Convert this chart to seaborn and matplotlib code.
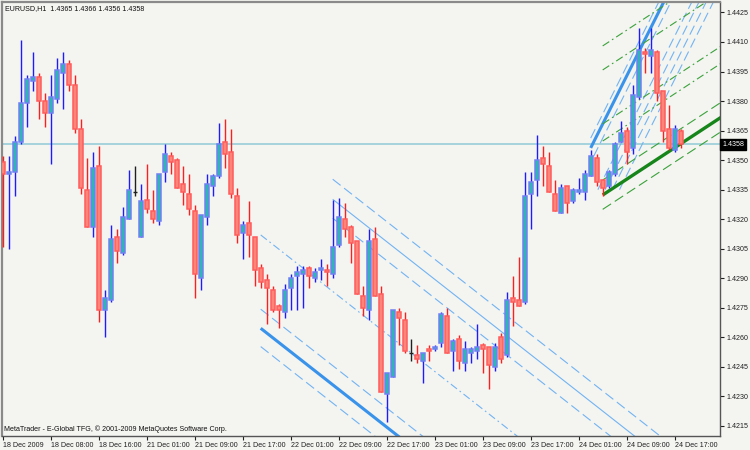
import matplotlib
matplotlib.use('Agg')
import matplotlib.pyplot as plt
import matplotlib.transforms as mtransforms
import numpy as np
import pandas as pd
import seaborn as sns

# EURUSD H1, 18 Dec 2009 00:00 .. 24 Dec 2009 18:00
opens = [1.4349, 1.4343, 1.4344, 1.4359, 1.4379, 1.4390, 1.4392, 1.4380, 1.4374, 1.4381,
         1.4394, 1.4399, 1.4388, 1.4366, 1.4335, 1.4316, 1.4347, 1.4274, 1.4279, 1.4311,
         1.4303, 1.4320, 1.4334, 1.4311, 1.4330, 1.4324, 1.4319, 1.4344, 1.4352, 1.4350,
         1.4338, 1.4333, 1.4324, 1.4290, 1.4321, 1.4337, 1.4342, 1.4359, 1.4354, 1.4332,
         1.4313, 1.4318, 1.4311, 1.4295, 1.4289, 1.4284, 1.4276, 1.4273, 1.4285, 1.4291,
         1.4292, 1.4295, 1.4290, 1.4294, 1.4294, 1.4292, 1.4307, 1.4320, 1.4316, 1.4309,
         1.4281, 1.4274, 1.4310, 1.4282, 1.4231, 1.4240, 1.4273, 1.4269, 1.4252, 1.4251,
         1.4248, 1.4254, 1.4254, 1.4257, 1.4271, 1.4253, 1.4259, 1.4247, 1.4252, 1.4253,
         1.4256, 1.4255, 1.4245, 1.4260, 1.4251, 1.4280, 1.4279, 1.4278, 1.4333, 1.4340,
         1.4351, 1.4347, 1.4333, 1.4323, 1.4337, 1.4329, 1.4334, 1.4334, 1.4342, 1.4351,
         1.4340, 1.4337, 1.4343, 1.4359, 1.4365, 1.4356, 1.4382, 1.4405, 1.4403, 1.4405,
         1.4385, 1.4366, 1.4355, 1.4365]
highs = [1.4352, 1.4352, 1.4362, 1.4411, 1.4393, 1.4405, 1.4394, 1.4384, 1.4393, 1.4402,
         1.4405, 1.4401, 1.4393, 1.4371, 1.4351, 1.4354, 1.4357, 1.4284, 1.4317, 1.4315,
         1.4326, 1.4345, 1.4347, 1.4338, 1.4348, 1.4335, 1.4343, 1.4358, 1.4354, 1.4351,
         1.4347, 1.4343, 1.4327, 1.4322, 1.4343, 1.4343, 1.4369, 1.4371, 1.4366, 1.4336,
         1.4319, 1.4329, 1.4311, 1.4297, 1.4292, 1.4286, 1.4277, 1.4287, 1.4292, 1.4296,
         1.4296, 1.4296, 1.4295, 1.4300, 1.4297, 1.4330, 1.4331, 1.4328, 1.4317, 1.4309,
         1.4286, 1.4315, 1.4316, 1.4286, 1.4242, 1.4274, 1.4275, 1.4273, 1.4259, 1.4256,
         1.4252, 1.4256, 1.4256, 1.4273, 1.4275, 1.4259, 1.4261, 1.4258, 1.4255, 1.4267,
         1.4257, 1.4255, 1.4257, 1.4262, 1.4283, 1.4291, 1.4301, 1.4344, 1.4344, 1.4363,
         1.4357, 1.4354, 1.4340, 1.4338, 1.4337, 1.4336, 1.4341, 1.4345, 1.4355, 1.4353,
         1.4340, 1.4345, 1.4359, 1.4370, 1.4367, 1.4388, 1.4417, 1.4407, 1.4417, 1.4406,
         1.4385, 1.4378, 1.4368, 1.4366]
lows = [1.4306, 1.4305, 1.4332, 1.4358, 1.4367, 1.4385, 1.4371, 1.4367, 1.4348, 1.4379,
        1.4376, 1.4385, 1.4364, 1.4333, 1.4316, 1.4311, 1.4268, 1.4260, 1.4278, 1.4298,
        1.4302, 1.4320, 1.4332, 1.4311, 1.4323, 1.4318, 1.4317, 1.4339, 1.4343, 1.4336,
        1.4327, 1.4322, 1.4280, 1.4284, 1.4317, 1.4332, 1.4341, 1.4346, 1.4331, 1.4308,
        1.4300, 1.4301, 1.4286, 1.4285, 1.4267, 1.4273, 1.4265, 1.4270, 1.4274, 1.4274,
        1.4275, 1.4285, 1.4288, 1.4289, 1.4286, 1.4290, 1.4306, 1.4311, 1.4298, 1.4282,
        1.4271, 1.4269, 1.4281, 1.4232, 1.4217, 1.4240, 1.4256, 1.4252, 1.4248, 1.4247,
        1.4237, 1.4248, 1.4253, 1.4255, 1.4252, 1.4243, 1.4244, 1.4243, 1.4247, 1.4249,
        1.4242, 1.4234, 1.4243, 1.4247, 1.4250, 1.4266, 1.4276, 1.4277, 1.4315, 1.4332,
        1.4337, 1.4334, 1.4324, 1.4323, 1.4323, 1.4328, 1.4333, 1.4330, 1.4342, 1.4337,
        1.4332, 1.4336, 1.4342, 1.4359, 1.4348, 1.4353, 1.4381, 1.4394, 1.4394, 1.4380,
        1.4359, 1.4355, 1.4354, 1.4356]
closes = [1.4343, 1.4344, 1.4359, 1.4379, 1.4391, 1.4392, 1.4380, 1.4374, 1.4382, 1.4396,
          1.4399, 1.4388, 1.4366, 1.4336, 1.4316, 1.4346, 1.4274, 1.4280, 1.4310, 1.4304,
          1.4321, 1.4335, 1.4334, 1.4329, 1.4325, 1.4320, 1.4343, 1.4353, 1.4349, 1.4336,
          1.4334, 1.4325, 1.4292, 1.4322, 1.4338, 1.4342, 1.4358, 1.4353, 1.4333, 1.4312,
          1.4317, 1.4312, 1.4294, 1.4288, 1.4285, 1.4274, 1.4274, 1.4284, 1.4290, 1.4293,
          1.4294, 1.4291, 1.4293, 1.4295, 1.4293, 1.4306, 1.4321, 1.4315, 1.4308, 1.4282,
          1.4275, 1.4309, 1.4281, 1.4232, 1.4242, 1.4274, 1.4270, 1.4253, 1.4252, 1.4249,
          1.4252, 1.4253, 1.4255, 1.4272, 1.4252, 1.4258, 1.4248, 1.4254, 1.4254, 1.4255,
          1.4254, 1.4246, 1.4255, 1.4249, 1.4279, 1.4278, 1.4276, 1.4332, 1.4339, 1.4350,
          1.4348, 1.4334, 1.4324, 1.4336, 1.4328, 1.4335, 1.4335, 1.4343, 1.4352, 1.4339,
          1.4336, 1.4344, 1.4358, 1.4364, 1.4354, 1.4383, 1.4406, 1.4404, 1.4406, 1.4384,
          1.4365, 1.4356, 1.4366, 1.4358]

time_labels = ['18 Dec 2009', '18 Dec 08:00', '18 Dec 16:00', '21 Dec 01:00', '21 Dec 09:00',
               '21 Dec 17:00', '22 Dec 01:00', '22 Dec 09:00', '22 Dec 17:00', '23 Dec 01:00',
               '23 Dec 09:00', '23 Dec 17:00', '24 Dec 01:00', '24 Dec 09:00', '24 Dec 17:00']
price_ticks = [1.4215, 1.4230, 1.4245, 1.4260, 1.4275, 1.4290, 1.4305, 1.4320,
               1.4335, 1.4350, 1.4365, 1.4380, 1.4395, 1.4410, 1.4425]
bid = 1.4358

# trend lines: (start bar, start price), slope in price per bar
down_slope = -0.000239
down_thick = [(43, 1.42646)]
down_thin = [(55, 1.43301)]
down_dash = [(43, 1.42743), (43, 1.42553), (55, 1.43403), (55, 1.43205)]
down_dashdot = [(43, 1.4312)]

up_slope = 0.000609
up_thick = [(98, 1.43562)]
up_dash = [(98, 1.43612), (98.5, 1.4352), (99.2, 1.4335), (100.4, 1.4335),
           (101.6, 1.4335), (102.8, 1.4335)]

green_slope = 0.0002
green_thick = [(100, 1.43323)]
green_dash = [(100, 1.4325), (100, 1.43399)]
green_dashdot = [(100, 1.43597), (100, 1.43684), (100, 1.43958), (100, 1.4408)]

df = pd.DataFrame({'open': opens, 'high': highs, 'low': lows, 'close': closes})
df['bar'] = np.arange(len(df))

sns.set_theme(style='white')
plt.rcParams['font.family'] = ['Liberation Sans', 'DejaVu Sans']
bg = '#f4f4f1'
fs = 5.1

fig = plt.figure(figsize=(7.5, 4.5), dpi=100, facecolor=bg)
ax = fig.add_axes([2 / 750, 14 / 450, 718 / 750, 434 / 450], facecolor=bg)

x_right = 119.55

# bid line
ax.axhline(bid, color='#9fd0da', lw=1.3, zorder=1)


def draw_lines(items, slope, color, lw, dashes=None):
    for b0, p0 in items:
        xs = np.array([b0, x_right + 2])
        ys = p0 + slope * (xs - b0)
        line, = ax.plot(xs, ys, color=color, lw=lw, zorder=2, solid_capstyle='butt')
        if dashes:
            line.set_dashes(dashes)


light_blue = '#72b4f2'
draw_lines(down_dash, down_slope, light_blue, 0.8, (9, 4))
draw_lines(down_dashdot, down_slope, light_blue, 0.8, (7, 3, 1.5, 3))
draw_lines(down_thin, down_slope, light_blue, 0.8)
draw_lines(down_thick, down_slope, '#3a93ea', 2.2)

draw_lines(up_dash, up_slope, light_blue, 0.8, (9, 4))
draw_lines(up_thick, up_slope, '#3a93ea', 2.2)

draw_lines(green_dash, green_slope, '#3aa23a', 0.8, (9, 4))
draw_lines(green_dashdot, green_slope, '#3aa23a', 0.8, (7, 3, 1.5, 3))
draw_lines(green_thick, green_slope, '#17861a', 2.4)

# candles
bull = df[df.close > df.open]
bear = df[df.close < df.open]
doji = df[df.close == df.open]

ax.vlines(bull.bar, bull.low, bull.high, color='#1c1cff', lw=1, zorder=3)
ax.vlines(bear.bar, bear.low, bear.high, color='#ff1e1e', lw=1, zorder=3)
ax.vlines(doji.bar, doji.low, doji.high, color='#202020', lw=1, zorder=3)

ax.bar(bull.bar, bull.close - bull.open, bottom=bull.open, width=0.6,
       color='#2fb6b4', edgecolor='#6f80f2', lw=1.1, zorder=4)
ax.bar(bear.bar, bear.open - bear.close, bottom=bear.close, width=0.6,
       color='#ff8478', edgecolor='#ff5c5c', lw=1.1, zorder=4)
ax.hlines(doji.open, doji.bar - 0.3, doji.bar + 0.3, color='#202020', lw=1, zorder=4)

ax.set_xlim(-0.12, x_right)
ax.set_ylim(1.42099, 1.44303)

ax.yaxis.tick_right()
ax.set_yticks(price_ticks)
ax.set_yticklabels([f'{p:.4f}' for p in price_ticks])
ax.set_xticks(np.arange(0, 8 * len(time_labels), 8))
ax.set_xticklabels(time_labels, ha='left')
ax.tick_params(axis='y', which='both', right=True, left=False, direction='out', length=3,
               width=0.8, pad=2, labelsize=fs, colors='#202020')
ax.tick_params(axis='x', which='both', bottom=True, direction='out', length=3,
               width=0.8, pad=1.5, labelsize=fs, colors='#202020')

for side in ['left', 'top']:
    ax.spines[side].set_color('#8a8a8a')
    ax.spines[side].set_linewidth(1.6)
for side in ['right', 'bottom']:
    ax.spines[side].set_color('#555555')
    ax.spines[side].set_linewidth(1.0)

ax.text(0.004, 0.993, 'EURUSD,H1  1.4365 1.4366 1.4356 1.4358', transform=ax.transAxes,
        ha='left', va='top', fontsize=fs, color='#101010', zorder=6)
ax.text(0.003, 0.006, 'MetaTrader - E-Global TFG, \u00a9 2001-2009 MetaQuotes Software Corp.',
        transform=ax.transAxes, ha='left', va='bottom', fontsize=fs, color='#101010', zorder=6)

trans = mtransforms.blended_transform_factory(ax.transAxes, ax.transData)
ax.text(1.003, bid, f'{bid:.4f}', transform=trans, ha='left', va='center', fontsize=fs,
        color='white', zorder=6,
        bbox=dict(boxstyle='square,pad=0.3', facecolor='black', edgecolor='black'))

fig.savefig('out.png', dpi=100, facecolor=bg)
